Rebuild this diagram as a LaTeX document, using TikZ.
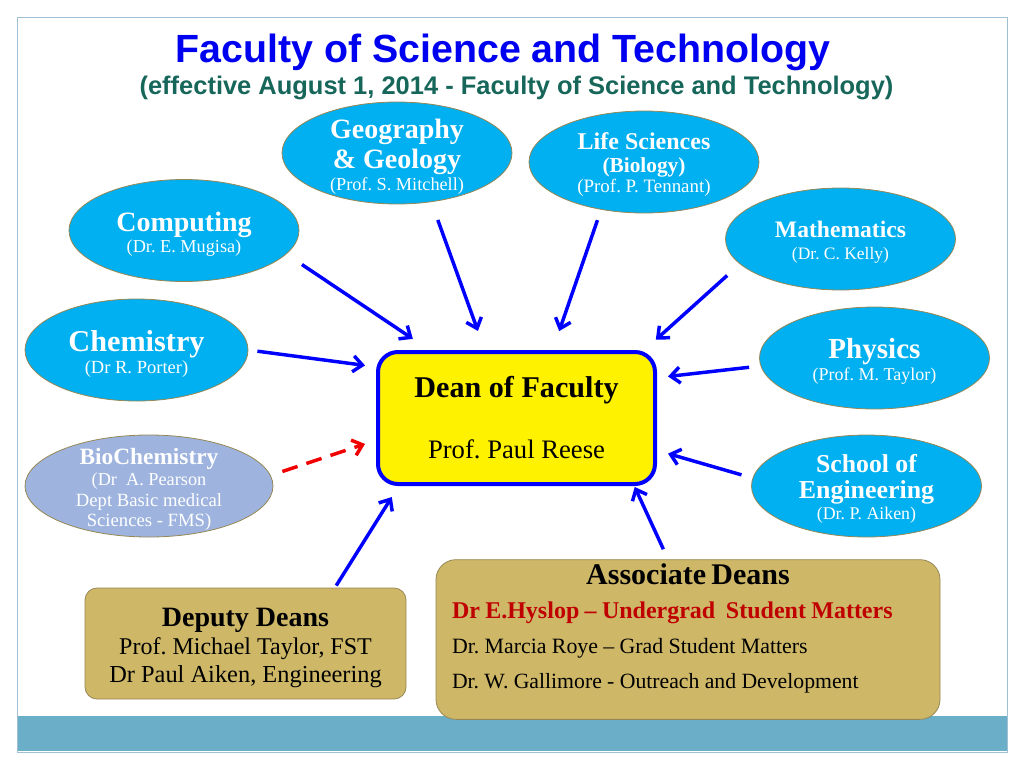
\documentclass[tikz,border=0pt]{standalone}
\usepackage{fontspec}
\setmainfont{Liberation Serif}
\newfontfamily\arialfont{Liberation Sans}
\usepackage{tikz}
\usetikzlibrary{arrows.meta,shapes,positioning}
\definecolor{deptblue}{RGB}{0,176,240}
\definecolor{biolav}{RGB}{158,180,222}
\definecolor{goldfill}{RGB}{206,184,104}
\definecolor{rimolive}{RGB}{150,135,85}
\definecolor{titleblue}{RGB}{0,0,240}
\definecolor{subteal}{RGB}{22,102,90}
\definecolor{bandblue}{RGB}{106,174,200}
\definecolor{framegrey}{RGB}{160,192,212}
\definecolor{hyred}{RGB}{192,0,0}
\definecolor{dashred}{RGB}{240,0,0}
\frenchspacing
\newcommand{\fsz}[2]{\fontsize{#1}{#2}\selectfont}
\newcommand{\lift}{\rule{0pt}{0.95em}}
\tikzset{>={Straight Barb[length=7pt,width=12pt]}}
\tikzset{
  dept/.style={ellipse, fill=deptblue, draw=rimolive, line width=0.6pt, text=white,
    align=center, inner sep=-10pt, minimum width=172.5pt, minimum height=76.5pt,
    font=\fsz{12}{24}},
  deanbox/.style={rectangle, rounded corners=15pt, fill=yellow, draw=blue, line width=3pt,
    minimum width=207.75pt, minimum height=99pt, align=center, font=\fsz{12}{24}},
  goldbox/.style={rectangle, rounded corners=9pt, fill=goldfill, draw=rimolive,
    line width=0.6pt, align=center, font=\fsz{12}{24}},
  feed/.style={->, draw=blue, line width=2.6pt},
}

\begin{document}
\begin{tikzpicture}[x=0.75pt, y=-0.75pt]
\useasboundingbox (0,0) rectangle (1024,768);
\fill[bandblue] (17,716) rectangle (1007,751);
\draw[framegrey, line width=0.75pt] (17,17) rectangle (1007,752);

\fill node[font=\arialfont\bfseries\fsz{29.5}{32}, text=titleblue, anchor=base, inner sep=0pt] (title) at (503,62) {Faculty of Science and Technology};
\fill node[font=\arialfont\bfseries\fsz{19.1}{22}, text=subteal, anchor=base, inner sep=0pt] (sub) at (516.5,94) {(effective August 1, 2014 - Faculty of Science and Technology)};

\fill node[dept] (geo) at (397,153) {{\fsz{21}{24}\bfseries\lift Geography}\\[-1.5pt]{\fsz{21}{24}\bfseries \& Geology}\\[-7.1pt]{\fsz{13.7}{24}(Prof. S. Mitchell)}};
\fill node[dept] (life) at (644,162) {{\fsz{18}{24}\bfseries\lift Life Sciences}\\[-6.75pt]{\fsz{16}{24}\bfseries (Biology)}\\[-9pt]{\fsz{14.2}{24}(Prof. P. Tennant)}};
\fill node[dept] (comp) at (184,230.5) {{\fsz{21}{24}\bfseries\lift Computing}\\[-8.25pt]{\fsz{13.7}{24}(Dr. E. Mugisa)}};
\fill node[dept] (math) at (840.5,239) {{\fsz{17.7}{24}\bfseries\lift Mathematics}\\[-7.5pt]{\fsz{13.1}{24}(Dr. C. Kelly)}};
\fill node[dept, minimum width=167.25pt] (chem) at (136.5,350) {{\fsz{22.7}{24}\bfseries\lift Chemistry}\\[-7.5pt]{\fsz{13.9}{24}(Dr R. Porter)}};
\fill node[dept] (phys) at (874.5,358) {{\fsz{21.8}{24}\bfseries\lift Physics}\\[-7.5pt]{\fsz{13.5}{24}(Prof. M. Taylor)}};
\fill node[dept, fill=biolav, minimum width=186pt] (bio) at (149,486) {{\fsz{17.5}{24}\bfseries\lift BioChemistry}\\[-8.25pt]{\fsz{13.7}{24}(Dr~ A. Pearson}\\[-8.25pt]{\fsz{14}{24}Dept Basic medical}\\[-9pt]{\fsz{14}{24}Sciences - FMS)}};
\fill node[dept] (eng) at (866.5,486) {{\fsz{19.3}{24}\bfseries\lift School of}\\[-4.5pt]{\fsz{19.4}{24}\bfseries Engineering}\\[-8.25pt]{\fsz{13.4}{24}(Dr. P. Aiken)}};

\fill node[deanbox] (dean) at (516.5,418) {{\fsz{22.6}{24}\bfseries Dean of Faculty}\\[21.75pt]{\fsz{20}{24}Prof. Paul Reese}};

\fill node[goldbox, minimum width=240.75pt, minimum height=83.25pt] (dep) at (245.5,643.5) {{\fsz{21}{24}\bfseries\lift Deputy Deans}\\[-3pt]{\fsz{18}{24}Prof. Michael Taylor, FST}\\[-3pt]{\fsz{18.3}{24}Dr Paul Aiken, Engineering}};
\fill node[goldbox, rounded corners=15pt, minimum width=378pt, minimum height=114.75pt, text width=354pt, align=left, inner xsep=12pt] (assoc) at (688,639.5) {\hfill{\fsz{22.5}{24}\bfseries Associate Deans}\hfill\null\\[1.5pt]\mbox{\fsz{18}{24}\bfseries\color{hyred}Dr E.Hyslop -- Undergrad~ Student Matters}\\[2.25pt]{\fsz{16.4}{24}Dr. Marcia Roye -- Grad Student Matters}\\[2.25pt]{\fsz{16.3}{24}Dr. W. Gallimore - Outreach and Development}\\[-4.5pt]\mbox{}};

\draw[feed, shorten <=14pt, shorten >=15pt] (comp.-13.5) to (dean.142.8);
\draw[feed, shorten <=14.25pt, shorten >=15.2pt] (geo.-55.8) to (dean.115.5);
\draw[feed, shorten <=8.25pt, shorten >=15pt] (life.-132.4) to (dean.62);
\draw[feed, shorten <=12.75pt, shorten >=11.5pt] (math.-166) to (dean.28.8);
\draw[feed, shorten <=6.8pt, shorten >=8.3pt] (chem.0.7) to (dean.160.7);
\draw[feed, shorten <=8.6pt, shorten >=8.3pt] (phys.-176) to (dean.16.2);
\draw[feed, draw=dashred, dash pattern=on 12pt off 7pt, shorten <=9.2pt, shorten >=8.7pt] (bio.5.8) to (dean.-171.3);
\draw[feed, shorten <=8.6pt, shorten >=8.6pt] (eng.176.6) to (dean.-13.6);
\draw[feed, shorten <=1.8pt, shorten >=9.75pt] (dep.32.3) to (dean.-150.2);
\draw[feed, shorten <=8.3pt, shorten >=0.8pt] (assoc.104) to (dean.-30.6);
\end{tikzpicture}
\end{document}
